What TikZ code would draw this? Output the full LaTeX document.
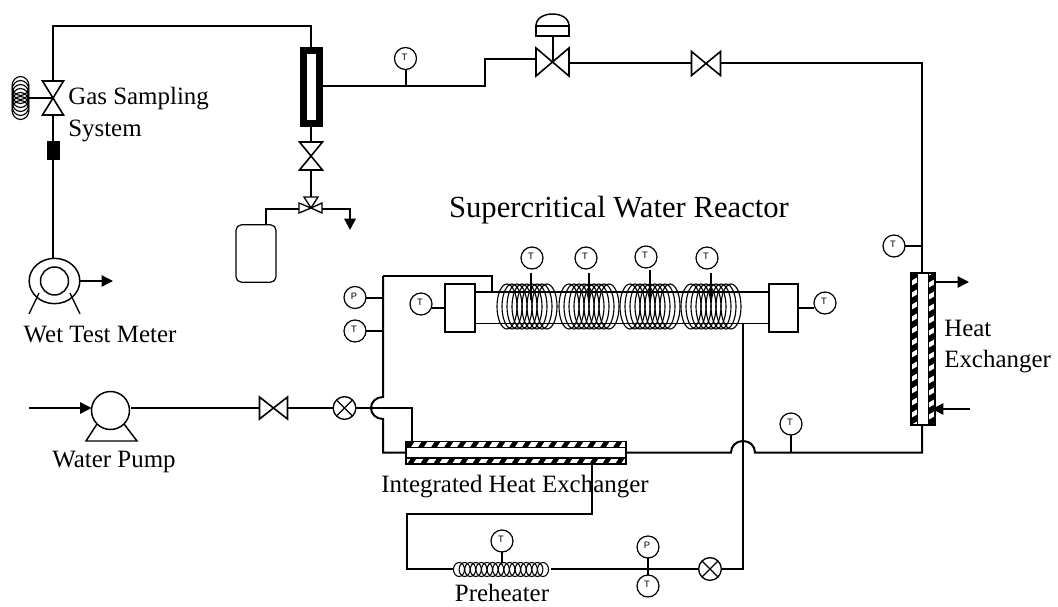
\documentclass[tikz,border=0pt]{standalone}
\usepackage{fontspec}
\setmainfont{Liberation Serif}
\newfontfamily\gaugefont{Liberation Sans}
\usetikzlibrary{arrows.meta,calc,shapes.geometric}
\tikzset{
  pipe/.style={line width=1.5pt,line join=miter},
  flow/.style={line width=1pt,-{Triangle[length=8.5pt,width=8.5pt]}},
  gauge/.style={circle,draw,line width=0.9pt,minimum size=16.5pt,inner sep=0pt,outer sep=0pt,font=\gaugefont\fontsize{7}{7}\selectfont,fill=white},
  xgauge/.style={circle,draw,line width=1pt,minimum size=17pt,inner sep=0pt,outer sep=0pt,fill=white},
  lab/.style={anchor=base,inner sep=0pt,font=\fontsize{18.7}{18.7}\selectfont},
  vessel/.style={draw,line width=1.1pt,inner sep=0pt,outer sep=0pt,fill=white},
  bowtie/.style={line width=1.2pt,fill=white,line join=miter}
}
\newcommand{\gaugeT}[3]{\node[gauge] (#1) at (#2,#3) {\raisebox{2.2pt}{\hspace{-1.5pt}T}};}
\newcommand{\gaugeP}[3]{\node[gauge] (#1) at (#2,#3) {\raisebox{2.2pt}{\hspace{-1.5pt}P}};}
\newcommand{\crossgauge}[3]{\node[xgauge] (#1) at (#2,#3) {};
  \draw[line width=1pt] (#1.north west) -- (#1.south east) (#1.north east) -- (#1.south west);}
% horizontal-flow valve: name,x,y,half width,half height
\newcommand{\hvalve}[5]{\node[inner sep=0pt,outer sep=0pt,minimum width=#4*1.5pt,minimum height=#5*1.5pt] (#1) at (#2,#3) {};
  \draw[bowtie] (#1.north west) -- (#1.south east) -- (#1.north east) -- (#1.south west) -- cycle;}
% vertical-flow valve
\newcommand{\vvalve}[5]{\node[inner sep=0pt,outer sep=0pt,minimum width=#4*1.5pt,minimum height=#5*1.5pt] (#1) at (#2,#3) {};
  \draw[bowtie] (#1.north west) -- (#1.north east) -- (#1.south west) -- (#1.south east) -- cycle;}
\newcommand{\coilset}[5]{\node[inner sep=0pt,outer sep=0pt] (#1) at (#2,#3) {};
  \foreach \k in {-4,...,4} \draw[line width=0.85pt] ($(#2,#3)+(\k*#4,0)$) ellipse [x radius=#5,y radius=22.5];}
\begin{document}
\begin{tikzpicture}[x=0.75pt,y=-0.75pt]
\useasboundingbox (0,0) rectangle (1058,607);
% ---- named junctions
\coordinate (topL) at (53,26);
\coordinate (topR) at (311,26);
\coordinate (r1) at (485,86);
\coordinate (r2) at (485,59);
\coordinate (cvL) at (536,59);
\coordinate (cvR) at (569,63);
\coordinate (v2L) at (692,63);
\coordinate (v2R) at (720,63);
\coordinate (cornerTR) at (922,63);
\coordinate (tk1) at (266,209);
\coordinate (tk2) at (266,225);
\coordinate (dr1) at (350,209);
\coordinate (dr2) at (350,230);
\coordinate (j1a) at (383,397);
\coordinate (j1b) at (383,419);
\coordinate (j1c) at (383,452.5);
\coordinate (j1top) at (383,276);
\coordinate (fe1) at (412,408);
\coordinate (fe2) at (412,441);
\coordinate (hA) at (731,452.5);
\coordinate (hB) at (755,452.5);
\coordinate (hT) at (743,441);
\coordinate (hC) at (922,452.5);
\coordinate (rt1) at (492,276);
\coordinate (rt2) at (492,292);
\coordinate (out1) at (743,323.5);
\coordinate (out2) at (743,569);
\coordinate (ph1) at (592,464);
\coordinate (ph2) at (592,514);
\coordinate (ph3) at (407,514);
\coordinate (ph4) at (407,569);
% ---- rotameter
\node[draw,line width=5.25pt,fill=white,inner sep=0pt,outer sep=0pt,minimum width=12pt,minimum height=55pt] (rot) at (311,87) {};
% ---- gas sampling
\vvalve{gsv}{53}{98}{10.5}{17}
\draw[line width=1.2pt] (gsv.center) -- (29,98) coordinate (gsc);
\foreach \dy in {-12,-8,-4,0,4,8,12}
  \draw[line width=0.85pt] (20.5,98+\dy) ellipse [x radius=8.5,y radius=9.5];
\node[fill=black,inner sep=0pt,outer sep=0pt,minimum width=9.75pt,minimum height=14pt] (filt) at (53,150.5) {};
\node[draw,line width=1.1pt,ellipse,inner sep=0pt,outer sep=0pt,minimum width=38pt,minimum height=34pt] (wtm) at (54.5,281) {};
\node[circle,draw,line width=1.1pt,inner sep=0pt,outer sep=0pt,minimum size=21pt] (wtmi) at (54.5,281) {};
\draw[line width=1pt] (39,293) -- (29,314) (70,293) -- (80,314);
\coordinate (wtmout) at (113,281);
\draw[flow] (wtm.east) -- (wtmout);
\draw[pipe] (gsv.north) -- (topL) -- (topR) -- (rot.north);
\draw[pipe] (gsv.south) -- (filt.north) (filt.south) -- (filt.south |- wtm.north);
% ---- drain valves, tank
\vvalve{dv}{311}{156}{11.5}{14}
\node[inner sep=0pt,outer sep=0pt,minimum size=1pt] (tw) at (311,208) {};
\draw[bowtie,line width=1pt] (tw.center) -- (304,197) -- (318,197) -- cycle;
\draw[bowtie,line width=1pt] (tw.center) -- (299,203) -- (299,213) -- cycle;
\draw[bowtie,line width=1pt] (tw.center) -- (322,203) -- (322,213) -- cycle;
\node[draw,line width=0.9pt,rounded corners=4pt,inner sep=0pt,outer sep=0pt,minimum width=30pt,minimum height=43pt] (tank) at (256,253.5) {};
\draw[pipe] (rot.south) -- (dv.north);
\draw[pipe] (dv.south) -- (311,197);
\draw[pipe] (299,209) -- (tk1) -- (tank.north -| tk2);
\draw[pipe,-{Triangle[length=8.5pt,width=8.5pt]}] (322,209) -- (dr1) -- (dr2);
% ---- top run
\gaugeT{t1}{405.5}{58.5}
\draw[pipe] (rot.east |- r1) -- (r1) -- (r2) -- (cvL);
\draw[pipe] (t1.south) -- (405.5,86);
\hvalve{cv}{552.5}{62}{16.5}{14}
\node[draw,line width=1.1pt,inner sep=0pt,outer sep=0pt,minimum width=24.75pt,minimum height=7.5pt] (act) at (552.5,31) {};
\draw[line width=1.1pt] (act.north west) .. controls (536,18) and (544,14) .. (552.5,14) .. controls (561,14) and (569,18) .. (act.north east);
\draw[pipe] (act.south) -- (cv.center);
\hvalve{v2}{706}{63.5}{14.5}{12}
\draw[pipe] (cvR) -- (v2L);
\gaugeT{t2}{894}{246}
% ---- right heat exchanger
\node[inner sep=0pt,outer sep=0pt,minimum width=18pt,minimum height=114pt] (hx) at (923,349) {};
\begin{scope}
  \clip (911,273) rectangle (935,425);
  \fill[black] (911,273) rectangle (935,425);
  \foreach \yy in {262,274,...,430} {
    \fill[white] (911,\yy+7) -- (935,\yy-7) -- (935,\yy-2) -- (911,\yy+12) -- cycle;
  }
\end{scope}
\node[draw,line width=0.8pt,fill=white,inner sep=0pt,outer sep=0pt,minimum width=8.5pt,minimum height=114pt] (hxi) at (923,349) {};
\draw[line width=1pt] (hx.north west) rectangle (hx.south east);
\draw[pipe] (v2R) -- (cornerTR) -- (922,273);
\draw[pipe] (t2.east) -- (922,246);
\coordinate (hxo) at (969,282);
\coordinate (hxif) at (970,409);
\draw[flow] (935,282) -- (hxo);
\draw[flow] (hxif) -- (932,409);
% ---- integrated heat exchanger
\node[inner sep=0pt,outer sep=0pt,minimum width=165pt,minimum height=17pt] (ihx) at (516,452.5) {};
\begin{scope}
  \clip (406,441) rectangle (626,464);
  \fill[black] (406,441) rectangle (626,464);
  \foreach \xx in {400,413,...,640} {
    \fill[white] (\xx,464) -- (\xx+7,464) -- (\xx+22,441) -- (\xx+15,441) -- cycle;
  }
\end{scope}
\node[draw,line width=0.8pt,fill=white,inner sep=0pt,outer sep=0pt,minimum width=165pt,minimum height=8.2pt] (ihxi) at (516,452.5) {};
\draw[line width=1pt] (ihx.north west) rectangle (ihx.south east);
% ---- pump and feed
\node[circle,draw,line width=1.1pt,inner sep=0pt,outer sep=0pt,minimum size=28.5pt] (pump) at (110.5,410.5) {};
\draw[line width=1.1pt] (97,424) -- (86,441) -- (137,441) -- (124,424);
\coordinate (feed) at (29,408);
\draw[flow] (feed) -- (91.5,408);
\hvalve{fv}{273.5}{408}{14}{11}
\crossgauge{xa}{344.5}{408}
\draw[pipe] (131,408) -- (fv.west);
\draw[pipe] (fv.east) -- (xa.west);
\draw[pipe] (xa.east) -- (fe1) -- (fe2);
\draw[pipe] (j1top) -- (j1a) .. controls (376,397) and (371,402) .. (371,408) .. controls (371,414) and (376,419) .. (j1b) -- (j1c) -- (ihx.west);
% ---- reactor
\node[vessel,minimum width=22.5pt,minimum height=36pt] (bl) at (460,308) {};
\node[vessel,minimum width=21.75pt,minimum height=36pt] (br) at (783.5,308) {};
\draw[line width=1.1pt] (bl.east |- 0,292) -- (br.west |- 0,292);
\draw[line width=1.1pt] (bl.east |- 0,323.5) -- (br.west |- 0,323.5);
\coilset{c1}{527}{306.5}{5}{10}
\coilset{c2}{589}{306.5}{5}{10}
\coilset{c3}{650}{306.5}{5}{10}
\coilset{c4}{711}{306.5}{5}{10}
\gaugeT{t3}{532}{258}
\gaugeT{t4}{586}{258}
\gaugeT{t5}{646}{257}
\gaugeT{t6}{707}{258}
\draw[pipe] (531,273) -- (531,300) (589,273) -- (589,300) (650,270) -- (650,300) (711,273) -- (711,300);
\gaugeP{p1}{355}{297.5}
\gaugeT{t7}{355}{331}
\gaugeT{t8}{421}{304}
\gaugeT{t9}{825}{303}
\draw[pipe] (p1.east) -- (p1.east -| j1top);
\draw[pipe] (t7.east) -- (t7.east -| j1top);
\draw[pipe] (j1top) -- (rt1) -- (rt2);
\draw[pipe] (bl.west -| t8.east) -- (bl.west);
\draw[pipe] (br.east) -- (br.east -| t9.west);
% ---- bottom right pipes
\draw[pipe] (ihx.east) -- (hA) .. controls (731,446) and (736,441) .. (hT) .. controls (750,441) and (755,446) .. (hB) -- (hC) -- (hx.south -| hC);
\gaugeT{t10}{791}{424}
\draw[pipe] (t10.south) -- (t10.south |- hC);
\crossgauge{xb}{710}{569}
\draw[pipe] (out1) -- (out2) -- (xb.east);
% ---- preheater
\node[inner sep=0pt,outer sep=0pt,minimum width=73pt,minimum height=10pt] (phc) at (502,569) {};
\draw[pipe] (ph1) -- (ph2) -- (ph3) -- (ph4) -- (phc.west);
\foreach \k in {0,...,15} \draw[line width=0.8pt] (459+\k*5.6,569.5) ellipse [x radius=5.5,y radius=7];
\gaugeT{t11}{502}{541}
\draw[pipe] (t11.south) -- (502,563);
\draw[pipe] (phc.east) -- (xb.west);
\gaugeP{p2}{648}{547}
\gaugeT{t12}{648}{586}
\draw[pipe] (p2.south) -- (t12.north);
% ---- labels
\node[lab,anchor=base west] (lgas) at (68,104) {Gas Sampling};
\node[lab,anchor=base west] (lsys) at (68,136) {System};
\node[lab] (lwet) at (100,342) {Wet Test Meter};
\node[lab] (lwat) at (114,467) {Water Pump};
\node[lab] (lihx) at (515,492) {Integrated Heat Exchanger};
\node[lab] (lph) at (502,601) {Preheater};
\node[lab,anchor=base west] (lh1) at (944,336) {Heat};
\node[lab,anchor=base west] (lh2) at (944,367) {Exchanger};
\node[lab,font=\fontsize{23}{23}\selectfont] (lsc) at (619,217) {Supercritical Water Reactor};
\end{tikzpicture}
\end{document}
